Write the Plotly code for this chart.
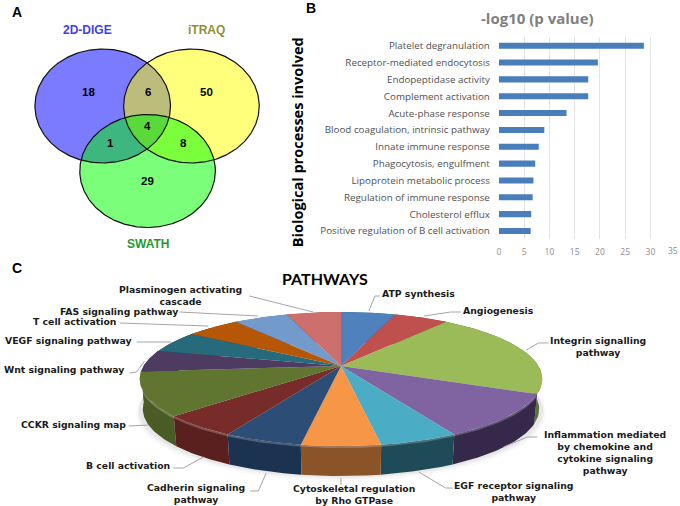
import numpy as np
import plotly.graph_objects as go

# ---------- Panel B data ----------
process_names = ["Platelet degranulation", "Receptor-mediated endocytosis", "Endopeptidase activity",
                 "Complement activation", "Acute-phase response", "Blood coagulation, intrinsic pathway",
                 "Innate immune response", "Phagocytosis, engulfment", "Lipoprotein metabolic process",
                 "Regulation of immune response", "Cholesterol efflux", "Positive regulation of B cell activation"]
process_values = [28.7, 19.6, 17.7, 17.7, 13.4, 9.0, 7.9, 7.2, 6.85, 6.7, 6.4, 6.3]
bar_ticks = [0, 5, 10, 15, 20, 25, 30, 35]

# ---------- Panel A data ----------
venn_names = ["2D-DIGE", "iTRAQ", "SWATH"]
venn_counts = {"A": 18, "B": 50, "C": 29, "AB": 6, "AC": 1, "BC": 8, "ABC": 4}

# ---------- Panel C data ----------
pathway_names = ["ATP synthesis", "Angiogenesis", "Integrin signalling<br>pathway",
                 "Inflammation mediated<br>by chemokine and<br>cytokine signaling<br>pathway",
                 "EGF receptor signaling<br>pathway", "Cytoskeletal regulation<br>by Rho GTPase",
                 "Cadherin signaling<br>pathway", "B cell activation", "CCKR signaling map",
                 "Wnt signaling pathway", "VEGF signaling pathway", "T cell activation",
                 "FAS signaling pathway", "Plasminogen activating<br>cascade"]
pathway_values = [1, 1, 4, 2, 1, 1, 1, 1, 2, 1, 1, 1, 1, 1]
pathway_top = ["#4f81bd", "#c0504d", "#9bbb59", "#8064a2", "#4bacc6", "#f79646", "#2c4d75",
               "#772c2a", "#5f7530", "#4d3b62", "#276a7c", "#b65708", "#729aca", "#cd6f6c"]
pathway_rim = ["#2f4d71", "#73302e", "#5d7035", "#35284a", "#1f4b58", "#8a5428", "#1b3350",
               "#5a201e", "#4a5c26", "#2e233b", "#173f4a", "#6d3405", "#445c79", "#7b4241"]
W, H = 680, 506

fig = go.Figure()
OV = dict(xaxis="x2", yaxis="y2", hoverinfo="skip", showlegend=False)

# ---------- Panel B ----------
fig.add_trace(go.Bar(x=process_values, y=process_names, orientation="h", marker_color="#4a7ebb",
                     marker_line_width=0, width=0.36, showlegend=False, hoverinfo="skip"))

# ---------- Panel A ----------
def ellipse(c, n=361):
    t = np.linspace(0, 2 * np.pi, n)
    return c[0] + c[2] * np.cos(t), c[1] + c[3] * np.sin(t)

def inside(c, x, y):
    return ((x - c[0]) / c[2]) ** 2 + ((y - c[1]) / c[3]) ** 2 <= 1.0001

def intersection(*cs):
    xs, ys = [], []
    for i, c in enumerate(cs):
        x, y = ellipse(c, 1441)
        m = np.ones_like(x, bool)
        for j, o in enumerate(cs):
            if j != i:
                m &= inside(o, x, y)
        xs.append(x[m]); ys.append(y[m])
    x, y = np.concatenate(xs), np.concatenate(ys)
    o = np.argsort(np.arctan2(y - y.mean(), x - x.mean()))
    return np.r_[x[o], x[o][0]], np.r_[y[o], y[o][0]]

def poly(x, y, color):
    fig.add_trace(go.Scatter(x=x, y=y, mode="lines", fill="toself", fillcolor=color,
                             line=dict(width=0, color=color), **OV))

EA, EB, EC = (101, 106, 68, 57), (190, 106, 68, 57), (146, 171, 68, 56.5)
for e, col in [(EA, "#7b7bff"), (EB, "#ffff7b"), (EC, "#7bff7b")]:
    poly(*ellipse(e), col)
poly(*intersection(EA, EB), "#bdbd7b")
poly(*intersection(EA, EC), "#3db67f")
poly(*intersection(EB, EC), "#7bff3d")
poly(*intersection(EA, EB, EC), "#5ad93c")
for e in (EA, EB, EC):
    x, y = ellipse(e)
    fig.add_trace(go.Scatter(x=x, y=y, mode="lines", line=dict(color="#111111", width=1.2), **OV))

# ---------- Panel C ----------
CX, CY, AX, BY, K, DEPTH, SHRINK = 340, 366, 198, 64.5, 0.194, 30, 0.985

def project(t):
    s, c = np.sin(t), np.cos(t)
    d = 1 + K * c
    return CX + AX * s / d, CY - BY * c / d

edges = 2 * np.pi * np.r_[0, np.cumsum(pathway_values)] / np.sum(pathway_values)

# soft shadow under the disc
tt = np.linspace(0, 2 * np.pi, 241)
sx, sy = project(tt)
for grow, alpha in [(5, 0.04), (3, 0.05), (1.5, 0.06)]:
    fig.add_trace(go.Scatter(x=CX + (sx - CX) * (1 + grow / 300), y=sy + DEPTH + grow, mode="lines",
                             fill="toself", fillcolor=f"rgba(90,90,90,{alpha})", line=dict(width=0), **OV))

# rim: back to front so nearer slices overlap
order = np.argsort(-np.cos((edges[:-1] + edges[1:]) / 2), kind="stable")
for i in order:
    t = np.linspace(edges[i], edges[i + 1], 40)
    x, y = project(t)
    bx, by = CX + (x - CX) * SHRINK, y + DEPTH
    poly(np.r_[x, bx[::-1], x[0]], np.r_[y, by[::-1], y[0]], pathway_rim[i])
# faint highlight just below the front edge of the disc
th = np.linspace(0.52 * np.pi, 1.5 * np.pi, 200)
hx, hy = project(th)
fig.add_trace(go.Scatter(x=hx, y=hy + 1, mode="lines", line=dict(color="rgba(255,255,255,0.22)", width=2), **OV))
# top faces
for i in range(len(pathway_values)):
    t = np.linspace(edges[i], edges[i + 1], 40)
    x, y = project(t)
    poly(np.r_[CX, x, CX], np.r_[CY, y, CY], pathway_top[i])

# leader lines
leaders = [
    ([379, 374, 368], [296, 296, 311]), ([460, 450, 423], [312, 312, 316]),
    ([548, 538, 526], [343, 343, 350]), ([537, 527, 503], [437, 437, 447]),
    ([452, 445, 418], [488, 488, 472]), ([340, 340], [478, 485]),
    ([249, 257, 265], [491, 491, 473]), ([172, 182, 202], [468, 468, 457]),
    ([127, 147], [426, 425]), ([128, 135, 143], [373, 372, 361]),
    ([135, 170], [342, 342]), ([118, 207], [323, 326]),
    ([178, 257], [312, 316]), ([248, 312], [296, 312]),
]
for lx, ly in leaders:
    fig.add_trace(go.Scatter(x=lx, y=ly, mode="lines", line=dict(color="#a6a6a6", width=1), **OV))

# ---------- Texts ----------
ann = []
def text(x, y, s, size, color="#000000", fam="Liberation Sans", bold=True, angle=0, xanchor="center"):
    ann.append(dict(x=x, y=y, xref="x2", yref="y2", text=f"<b>{s}</b>" if bold else s, showarrow=False,
                    xanchor=xanchor, font=dict(size=size, color=color, family=fam), textangle=angle, align="center"))

text(15, 12, "A", 14); text(310, 8, "B", 14); text(15, 268, "C", 14)
text(86, 30, venn_names[0], 12, "#3f3ff0")
text(205, 30, venn_names[1], 12, "#8f8f35")
text(146, 244, venn_names[2], 12, "#1f9a2f")
for key, (vx, vy) in {"A": (87, 92), "B": (205, 92), "C": (146, 181), "AB": (146, 92),
                      "AC": (109, 143), "BC": (182, 143), "ABC": (146, 126)}.items():
    text(vx, vy, str(venn_counts[key]), 11.5)

text(537, 18, "-log10 (p value)", 15, "#7f7f7f", "Open Sans")
text(296, 142, "Biological processes involved", 14.5, "#000000", "Open Sans", angle=-90)
text(323.5, 278, "PATHWAYS", 16, "#000000", "Lato")
# the last tick label touches the page edge, so it is anchored inside it
text(680, 250, str(bar_ticks[-1]), 8.5, "#8c8c8c", "Open Sans", bold=False, xanchor="right")

label_pos = [(418, 293), (498, 310), (598, 346), (605, 452), (514, 491), (353.5, 494.5), (195, 493), (126, 465),
             (72, 424), (62, 369), (67, 340), (73, 321), (117, 311.5), (179, 295.5)]
for (lx, ly), name in zip(label_pos, pathway_names):
    text(lx, ly, name, 9.3, "#1a1a1a", "DejaVu Sans")

fig.update_layout(
    width=W, height=H, autosize=False, margin=dict(l=0, r=0, t=0, b=0),
    paper_bgcolor="white", plot_bgcolor="rgba(0,0,0,0)", showlegend=False, annotations=ann,
    xaxis=dict(domain=[498.3 / W, 675.7 / W], range=[0, 35], tickvals=bar_ticks, showgrid=True,
               gridcolor="#e4e4e4", gridwidth=1, zeroline=False, showline=False, anchor="y",
               tickfont=dict(family="Open Sans", size=8.5, color="#8c8c8c"),
               ticks="outside", ticklen=4, tickcolor="rgba(0,0,0,0)"),
    yaxis=dict(domain=[1 - 239.4 / H, 1 - 37.3 / H], autorange="reversed", showgrid=False, zeroline=False,
               showline=False, anchor="x", ticks="outside", ticklen=6, tickcolor="rgba(0,0,0,0)",
               tickfont=dict(family="Open Sans", size=9.8, color="#505050")),
    xaxis2=dict(domain=[0, 1], range=[0, W], visible=False, anchor="y2", fixedrange=True),
    yaxis2=dict(domain=[0, 1], range=[H, 0], visible=False, anchor="x2", fixedrange=True),
)
fig.write_html("out.html", config=dict(displayModeBar=False),
               post_script="document.body.style.margin='0';document.documentElement.style.overflow='hidden';")
